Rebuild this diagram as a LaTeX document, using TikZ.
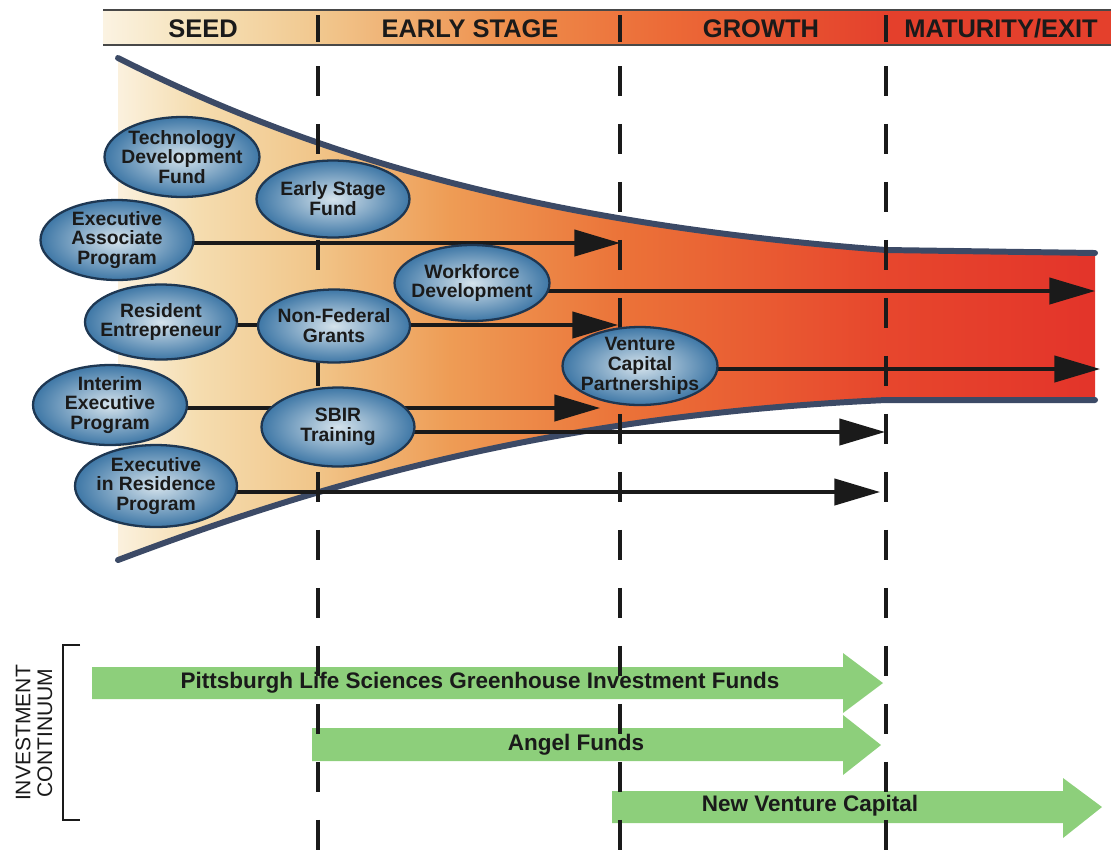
\documentclass[tikz,border=0pt]{standalone}
\usepackage{fontspec}
\setmainfont{Liberation Sans}
\usetikzlibrary{shapes.geometric,arrows.meta}
\pgfdeclarelayer{back}
\pgfdeclarelayer{mid}
\pgfsetlayers{back,mid,main}
\definecolor{fA}{HTML}{FBF1DE}
\definecolor{fA2}{HTML}{F5DDB0}
\definecolor{fB}{HTML}{F1C68A}
\definecolor{fC}{HTML}{EE9C55}
\definecolor{fD}{HTML}{EB7238}
\definecolor{fE}{HTML}{E7472D}
\definecolor{fF}{HTML}{E3342A}
\definecolor{hA}{HTML}{FBF3E2}
\definecolor{hB}{HTML}{F5E0B5}
\definecolor{hC}{HTML}{F1C68C}
\definecolor{hD}{HTML}{EE8F4C}
\definecolor{hE}{HTML}{EC6A37}
\definecolor{hF}{HTML}{E4402C}
\definecolor{outl}{HTML}{3C4A66}
\definecolor{ellrim}{HTML}{1E3752}
\definecolor{elllight}{HTML}{D5E3EC}
\definecolor{elldark}{HTML}{3E77A6}
\definecolor{grn}{HTML}{8DCF7B}
\definecolor{ink}{HTML}{1A1A1A}
\pgfdeclarehorizontalshading{funnelshade}{100bp}{color(0bp)=(fA); color(25bp)=(fA); color(29bp)=(fA2); color(35bp)=(fB); color(42bp)=(fC); color(51bp)=(fD); color(64bp)=(fE); color(75bp)=(fF); color(100bp)=(fF)}
\pgfdeclarehorizontalshading{headshade}{100bp}{color(0bp)=(hA); color(25bp)=(hA); color(30bp)=(hB); color(36bp)=(hC); color(45bp)=(hD); color(53bp)=(hE); color(64bp)=(hF); color(75bp)=(hF); color(100bp)=(hF)}
\tikzset{
  ell/.style={ellipse, draw=ellrim, line width=1.3pt, inner color=elllight, outer color=elldark, inner sep=0pt},
  lbl/.style={align=center, inner sep=0pt, text=ink, font=\fontsize{11}{11.3}\selectfont\bfseries},
  hdr/.style={inner sep=0pt, text=ink, font=\fontsize{14.5}{16}\selectfont\bfseries},
  glbl/.style={inner sep=0pt, text=ink, font=\fontsize{12.8}{14}\selectfont\bfseries},
  arr/.style={draw=ink, line width=1.8pt, -{Triangle[length=26pt,width=15pt]}},
  stagesep/.style={draw=ink, line width=2.3pt, dash pattern=on 17pt off 16pt},
  outline/.style={draw=outl, line width=3.4pt, line cap=round},
  gar/.style={fill=grn}
}
\begin{document}
\begin{tikzpicture}[x=0.02cm,y=-0.02cm]
\useasboundingbox (0,0) rectangle (1111,860);

% header band
\shade[shading=headshade] (103,10) rectangle (1111,45);
\draw[draw=ink!80, line width=1.1pt] (103,10) -- (1111,10);
\draw[draw=ink!80, line width=1.1pt] (103,45) -- (1111,45);
\foreach \x in {318,620,886} \draw[ink, line width=2.3pt] (\x,15) -- (\x,42);
\node[hdr] (seed) at (203,29) {SEED};
\node[hdr] (early) at (470,29) {EARLY STAGE};
\node[hdr] (growth) at (761,29) {GROWTH};
\node[hdr] (mature) at (1001,29) {MATURITY/EXIT};

% funnel
\begin{pgfonlayer}{back}
\shade[shading=funnelshade] (118,58) .. controls (330,165) and (560,225) .. (886,250) -- (1095,253) -- (1095,400) -- (886,400) .. controls (560,415) and (330,480) .. (118,560) -- cycle;
\draw[outline] (118,58) .. controls (330,165) and (560,225) .. (886,250) -- (1095,253);
\draw[outline] (118,560) .. controls (330,480) and (560,415) .. (886,400) -- (1095,400);
\end{pgfonlayer}

% green investment arrows
\begin{pgfonlayer}{back}
\fill[gar] (92,667) -- (843,667) -- (843,653) -- (883,683) -- (843,713) -- (843,699) -- (92,699) -- cycle;
\fill[gar] (312,728) -- (843,728) -- (843,715) -- (881,745) -- (843,775) -- (843,761) -- (312,761) -- cycle;
\fill[gar] (612,791) -- (1063,791) -- (1063,778) -- (1102,807) -- (1063,838) -- (1063,823) -- (612,823) -- cycle;
\end{pgfonlayer}
\node[glbl] (plsg) at (480,683) {Pittsburgh Life Sciences Greenhouse Investment Funds};
\node[glbl] (angel) at (576,745) {Angel Funds};
\node[glbl] (nvc) at (810,806) {New Venture Capital};

% dashed stage separators
\begin{pgfonlayer}{mid}
\foreach \x in {318,620,886} \draw[stagesep] (\x,66) -- (\x,860);
\end{pgfonlayer}

% programme ellipses
\node[ell, minimum width=3.1cm, minimum height=1.6cm] (tdf) at (182,157) {};
\node[ell, minimum width=3.06cm, minimum height=1.54cm] (esf) at (333,199) {};
\node[ell, minimum width=3.06cm, minimum height=1.6cm] (eap) at (117,240) {};
\node[ell, minimum width=3.04cm, minimum height=1.5cm] (re) at (161,322) {};
\node[ell, minimum width=3.04cm, minimum height=1.46cm] (nfg) at (334,326) {};
\node[ell, minimum width=3.1cm, minimum height=1.52cm] (wfd) at (472,283) {};
\node[ell, minimum width=3.1cm, minimum height=1.56cm] (vcp) at (640,366) {};
\node[ell, minimum width=3.08cm, minimum height=1.6cm] (iep) at (110,405) {};
\node[ell, minimum width=3.06cm, minimum height=1.58cm] (sbir) at (338,427) {};
\node[ell, minimum width=3.24cm, minimum height=1.64cm] (eir) at (156,486) {};

\node[lbl] (tdf-t) at (tdf) {Technology\\Development\\Fund};
\node[lbl] (esf-t) at (esf) {Early Stage\\Fund};
\node[lbl] (eap-t) at (eap) {Executive\\Associate\\Program};
\node[lbl] (re-t) at (re) {Resident\\Entrepreneur};
\node[lbl] (nfg-t) at (nfg) {Non-Federal\\Grants};
\node[lbl] (wfd-t) at (wfd) {Workforce\\Development};
\node[lbl] (vcp-t) at (vcp) {Venture\\Capital\\Partnerships};
\node[lbl] (iep-t) at (iep) {Interim\\Executive\\Program};
\node[lbl] (sbir-t) at (sbir) {SBIR\\Training};
\node[lbl] (eir-t) at (eir) {Executive\\in Residence\\Program};

% arrow end points
\coordinate (t1) at (620,243);
\coordinate (t2) at (1095,291);
\coordinate (t3) at (618,325);
\coordinate (t4) at (1100,369);
\coordinate (t5) at (600,408);
\coordinate (t6) at (885,432);
\coordinate (t7) at (880,492);

\begin{pgfonlayer}{mid}
\draw[arr] (eap.center |- t1) -- (t1);
\draw[arr] (wfd.center |- t2) -- (t2);
\draw[arr] (re.center |- t3) -- (t3);
\draw[arr] (vcp.center |- t4) -- (t4);
\draw[arr] (iep.center |- t5) -- (t5);
\draw[arr] (sbir.center |- t6) -- (t6);
\draw[arr] (eir.center |- t7) -- (t7);
\end{pgfonlayer}

% investment continuum bracket
\node[rotate=90, align=center, inner sep=0pt, text=ink, font=\fontsize{12}{12.5}\selectfont] (ic) at (34,733) {INVESTMENT\\CONTINUUM};
\draw[ink, line width=1.5pt] (80,645) -- (63,645) -- (63,820) -- (80,820);
\end{tikzpicture}
\end{document}
